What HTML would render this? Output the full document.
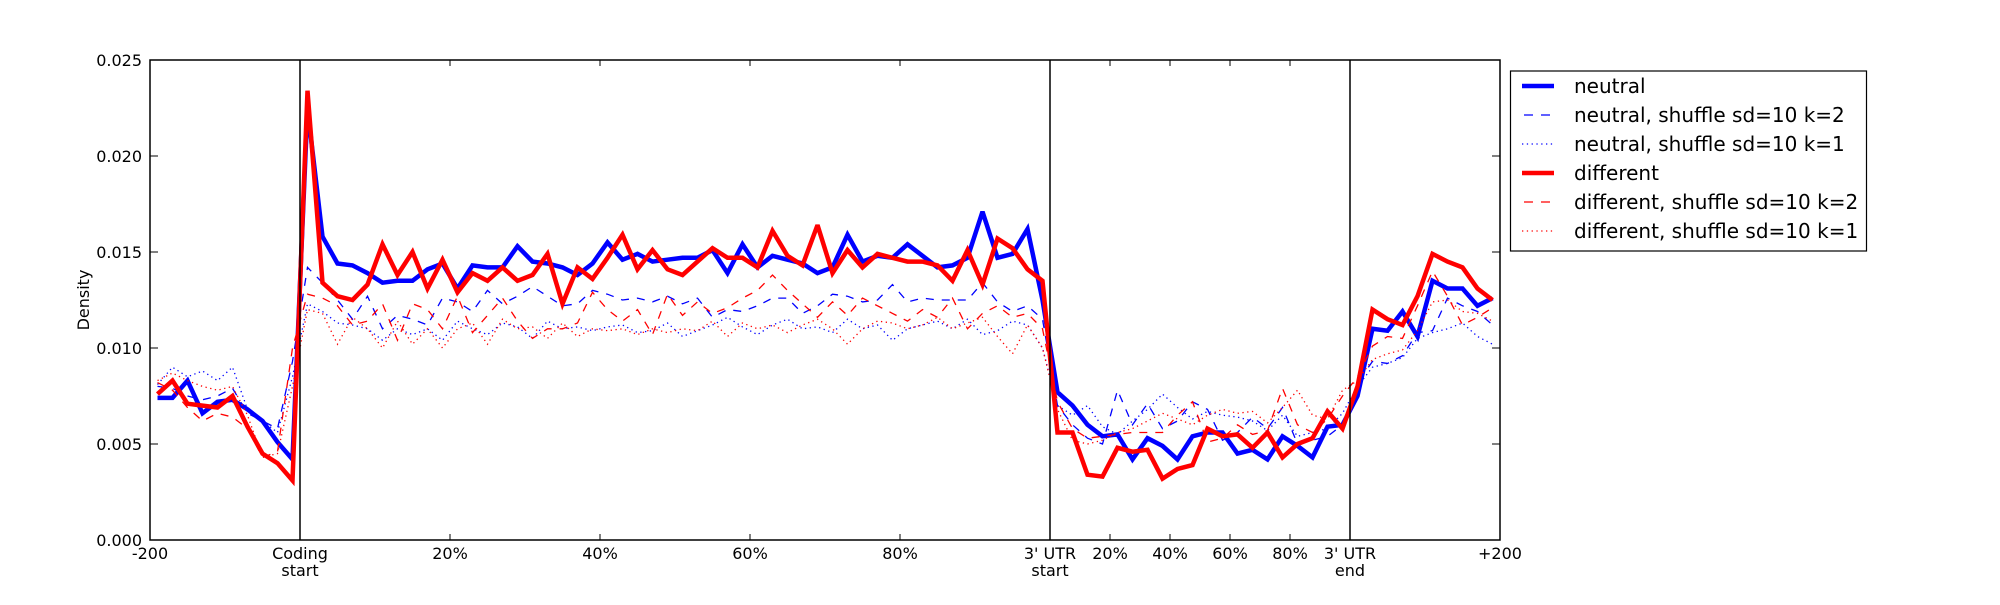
<!DOCTYPE html>
<html><head><meta charset="utf-8"><style>
html,body{margin:0;padding:0;background:#fff;}
svg text{font-family:"DejaVu Sans","Liberation Sans",sans-serif;font-size:16px;fill:#000;}
svg text.lg{font-size:20px;}
</style></head><body>
<svg id="s" width="2000" height="600" xmlns="http://www.w3.org/2000/svg">
<rect width="2000" height="600" fill="#fff"/>
<g id="lines"></g>
<g stroke="#000" stroke-width="1.5" fill="none">
<rect x="150" y="60" width="1350" height="480"/>
<line x1="300" y1="60" x2="300" y2="540"/>
<line x1="1050" y1="60" x2="1050" y2="540"/>
<line x1="1350" y1="60" x2="1350" y2="540"/>
</g>
<g id="ticks" stroke="#000" stroke-width="1"></g>
<g text-anchor="end">
<text x="142" y="546">0.000</text>
<text x="142" y="450">0.005</text>
<text x="142" y="354">0.010</text>
<text x="142" y="258">0.015</text>
<text x="142" y="162">0.020</text>
<text x="142" y="66">0.025</text>
</g>
<text transform="translate(89,300) rotate(-90)" text-anchor="middle">Density</text>
<g text-anchor="middle">
<text x="150" y="559">-200</text>
<text x="300" y="559">Coding</text><text x="300" y="576">start</text>
<text x="450" y="559">20%</text>
<text x="600" y="559">40%</text>
<text x="750" y="559">60%</text>
<text x="900" y="559">80%</text>
<text x="1050" y="559">3' UTR</text><text x="1050" y="576">start</text>
<text x="1110" y="559">20%</text>
<text x="1170" y="559">40%</text>
<text x="1230" y="559">60%</text>
<text x="1290" y="559">80%</text>
<text x="1350" y="559">3' UTR</text><text x="1350" y="576">end</text>
<text x="1500" y="559">+200</text>
</g>
<rect x="1510.5" y="71" width="356" height="180" fill="#fff" stroke="#000" stroke-width="1.2"/>
<g stroke-linecap="butt">
<line x1="1522" y1="86" x2="1554" y2="86" stroke="#0000ff" stroke-width="4.5"/>
<line x1="1524" y1="115" x2="1554" y2="115" stroke="#0000ff" stroke-width="1.3" stroke-dasharray="9,8"/>
<line x1="1522" y1="144" x2="1554" y2="144" stroke="#0000ff" stroke-width="1.3" stroke-dasharray="1.3,3.5"/>
<line x1="1522" y1="173" x2="1554" y2="173" stroke="#ff0000" stroke-width="4.5"/>
<line x1="1524" y1="202" x2="1554" y2="202" stroke="#ff0000" stroke-width="1.3" stroke-dasharray="9,8"/>
<line x1="1522" y1="231" x2="1554" y2="231" stroke="#ff0000" stroke-width="1.3" stroke-dasharray="1.3,3.5"/>
</g>
<text class="lg" x="1574" y="93">neutral</text>
<text class="lg" x="1574" y="122">neutral, shuffle sd=10 k=2</text>
<text class="lg" x="1574" y="151">neutral, shuffle sd=10 k=1</text>
<text class="lg" x="1574" y="180">different</text>
<text class="lg" x="1574" y="209">different, shuffle sd=10 k=2</text>
<text class="lg" x="1574" y="238">different, shuffle sd=10 k=1</text>
</svg>
<script>
var NS="http://www.w3.org/2000/svg";
var up={
bs:[7.4,7.4,8.3,6.6,7.2,7.3,6.8,6.2,5.1,4.2],
rs:[7.6,8.3,7.1,7.0,6.9,7.5,5.9,4.5,4.0,3.1],
bd:[8.0,7.9,7.5,7.3,7.5,7.9,6.6,6.2,5.8,9.3],
rd:[8.2,7.8,6.9,6.2,6.6,6.4,5.8,4.3,4.6,10.0],
bo:[8.1,9.0,8.5,8.8,8.3,9.0,6.8,6.2,5.6,8.5],
ro:[8.3,8.7,8.3,8.0,7.8,8.0,6.5,4.3,4.5,8.0]};
var cod={
bs:[22.5,15.8,14.4,14.3,13.9,13.4,13.5,13.5,14.1,14.4,13.1,14.3,14.2,14.2,15.3,14.5,14.4,14.2,13.8,14.4,15.5,14.6,14.9,14.5,14.6,14.7,14.7,15.1,13.9,15.4,14.2,14.8,14.6,14.4,13.9,14.2,15.9,14.5,14.8,14.7,15.4,14.8,14.2,14.3,14.7,17.1,14.7,14.9,16.2,12.5],
rs:[23.4,13.4,12.7,12.5,13.3,15.4,13.8,15.0,13.1,14.6,12.9,13.9,13.5,14.2,13.5,13.8,14.9,12.3,14.2,13.6,14.7,15.9,14.1,15.1,14.1,13.8,14.5,15.2,14.7,14.7,14.2,16.1,14.8,14.3,16.4,13.9,15.1,14.2,14.9,14.7,14.5,14.5,14.3,13.5,15.1,13.3,15.7,15.2,14.1,13.5],
bd:[14.2,13.4,12.5,11.5,12.7,11.0,11.7,11.5,11.2,12.6,12.4,11.9,13.0,12.3,12.7,13.2,12.7,12.2,12.3,13.0,12.8,12.5,12.6,12.4,12.7,12.3,12.6,11.6,12.0,11.9,12.2,12.6,12.6,11.8,12.2,12.8,12.7,12.4,12.5,13.3,12.4,12.6,12.5,12.5,12.5,13.4,12.4,11.9,12.2,11.5],
rd:[12.8,12.6,12.2,11.2,11.4,12.3,10.4,12.3,12.0,11.0,12.7,10.8,11.7,12.6,11.4,10.5,11.0,11.0,11.3,12.9,12.0,11.4,12.0,10.7,12.8,11.7,12.4,11.8,12.1,12.6,13.0,13.8,13.0,12.3,11.6,12.4,11.7,12.6,12.2,11.8,11.4,12.0,11.6,12.6,11.0,11.8,12.2,11.6,11.8,11.0],
bo:[12.3,11.9,11.3,11.2,11.0,10.4,11.0,10.7,11.0,10.4,11.4,11.0,10.7,11.3,11.1,10.5,11.4,11.0,11.1,10.9,11.1,11.2,10.8,10.9,11.3,10.6,10.9,11.2,11.6,11.1,10.7,11.2,11.5,11.0,11.1,10.8,11.5,11.0,11.2,10.4,11.0,11.2,11.4,11.0,11.5,10.7,10.9,11.4,11.2,10.0],
ro:[12.0,11.8,10.2,11.6,11.0,10.0,11.4,10.2,11.0,10.0,11.0,11.3,10.2,11.5,11.0,11.1,10.5,11.3,10.6,11.0,10.9,11.0,10.7,11.0,10.8,11.0,10.9,11.4,10.6,11.3,11.0,11.2,10.8,11.2,11.5,11.0,10.2,11.0,11.4,11.3,11.0,11.2,11.6,11.0,11.3,11.6,10.6,9.7,11.2,10.0]};
var utr={
bs:[7.7,7.0,6.0,5.4,5.5,4.2,5.3,4.9,4.2,5.4,5.6,5.6,4.5,4.7,4.2,5.4,4.9,4.3,5.9,6.0],
rs:[5.6,5.6,3.4,3.3,4.8,4.6,4.7,3.2,3.7,3.9,5.8,5.4,5.5,4.8,5.6,4.3,5.0,5.3,6.7,5.8],
bd:[7.0,6.0,5.3,5.0,7.8,6.0,7.1,5.8,6.2,7.2,6.8,5.2,5.6,6.4,5.8,6.9,5.0,5.2,5.4,6.0],
rd:[7.2,5.8,5.3,5.4,5.5,5.6,5.6,5.6,6.5,7.2,5.1,5.3,6.0,5.5,5.7,7.9,6.0,5.6,6.3,7.5],
bo:[7.0,6.5,7.0,5.9,5.5,6.2,6.8,7.6,6.9,6.3,6.7,6.5,6.4,6.2,5.7,6.5,5.4,5.6,5.8,6.6],
ro:[6.8,5.2,5.0,5.2,5.6,5.8,6.2,6.6,6.3,6.0,6.5,6.8,6.6,6.7,6.1,6.9,7.8,6.5,6.3,7.8]};
var dn={
bs:[7.5,11.0,10.9,11.9,10.6,13.5,13.1,13.1,12.2,12.6],
rs:[8.0,12.0,11.5,11.2,12.7,14.9,14.5,14.2,13.1,12.5],
bd:[8.2,9.3,9.2,9.6,10.8,10.9,12.6,12.2,11.9,11.2],
rd:[8.5,10.1,10.6,10.5,12.2,14.0,12.7,11.2,11.6,12.1],
bo:[8.0,9.0,9.2,9.5,10.5,10.8,11.0,11.3,10.6,10.2],
ro:[8.3,9.4,9.7,9.9,10.9,12.4,12.5,11.9,11.8,11.4]};
var styles={
bo:["#0000ff",1.3,"1.3,3.5"],ro:["#ff0000",1.3,"1.3,3.5"],
bd:["#0000ff",1.3,"8,8"],rd:["#ff0000",1.3,"8,8"],
bs:["#0000ff",4.5,null],rs:["#ff0000",4.5,null]};
var order=["bs","bd","bo","rs","rd","ro"];
var g=document.getElementById("lines");
order.forEach(function(k){
 var d=up[k].concat(cod[k],utr[k],dn[k]);
 var pts=d.map(function(v,i){return (157.5+15*i).toFixed(1)+","+(540-v*19.2).toFixed(1);}).join(" ");
 var p=document.createElementNS(NS,"polyline");
 p.setAttribute("points",pts);p.setAttribute("fill","none");
 p.setAttribute("stroke",styles[k][0]);p.setAttribute("stroke-width",styles[k][1]);
 p.setAttribute("stroke-linejoin","miter");p.setAttribute("stroke-miterlimit","3");
 if(styles[k][2])p.setAttribute("stroke-dasharray",styles[k][2]);
 g.appendChild(p);
});
var t=document.getElementById("ticks");
function L(x1,y1,x2,y2){var l=document.createElementNS(NS,"line");l.setAttribute("x1",x1);l.setAttribute("y1",y1);l.setAttribute("x2",x2);l.setAttribute("y2",y2);t.appendChild(l);}
for(var i=0;i<=5;i++){var y=540-96*i;L(150,y,158,y);L(1500,y,1492,y);}
[150,300,450,600,750,900,1050,1110,1170,1230,1290,1350,1500].forEach(function(x){L(x,540,x,534);L(x,60,x,66);});
</script>
</body></html>
